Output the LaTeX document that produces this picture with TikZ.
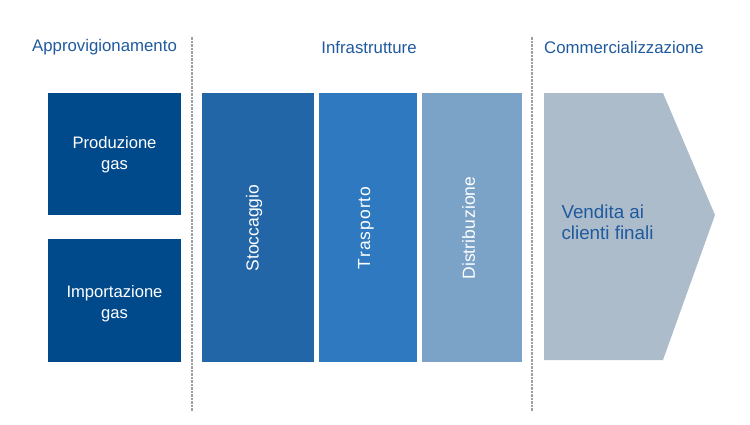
\documentclass[tikz,border=0pt]{standalone}
\usepackage{fontspec}
\setmainfont{Liberation Sans}
\definecolor{hdr}{HTML}{1F5A9E}
\definecolor{cDark}{HTML}{004A8C}
\definecolor{cStoc}{HTML}{2366A8}
\definecolor{cTras}{HTML}{2E79BF}
\definecolor{cDist}{HTML}{7BA3C8}
\definecolor{cArr}{HTML}{ADBCCB}
\definecolor{cDash}{HTML}{A0A0A0}
\begin{document}
\begin{tikzpicture}[x=1pt,y=-1pt,
  header/.style={text=hdr,font=\fontsize{16.8}{19}\selectfont,inner sep=0pt},
  sqtext/.style={text=white,align=center,font=\fontsize{16.6}{21}\selectfont},
  vbox/.style={draw=none,text=white,font=\fontsize{17.5}{20}\selectfont},
  sep/.style={draw=cDash,line width=2pt,dash pattern=on 2.5pt off 1pt}]
\useasboundingbox (0,0) rectangle (750,424);
% headers
\node[header] (h1) at (104.5,47) {Approvigionamento};
\node[header] (h2) at (369,47) {Infrastrutture};
\node[header] (h3) at (624,47) {Commercializzazione};
% separators
\coordinate (s1t) at (192,37); \coordinate (s1b) at (192,411);
\coordinate (s2t) at (532,37); \coordinate (s2b) at (532,411);
\draw[sep] (s1t) -- (s1b);
\draw[sep] (s2t) -- (s2b);
% left boxes
\fill[cDark] (48,93) rectangle (181,215);
\node[sqtext] (prod) at (114.5,154.5) {Produzione\\gas};
\fill[cDark] (48,239) rectangle (181,362);
\node[sqtext] (imp) at (114.5,303.5) {Importazione\\gas};
% infrastructure
\fill[cStoc] (202,93) rectangle (314,362);
\node[vbox,rotate=90] (stoc) at (254,228) {Stoccaggio};
\fill[cTras] (319,93) rectangle (417,362);
\node[vbox,rotate=90] (tras) at (366,228) {T\kern1.2pt r\kern1pt a\kern1pt s\kern1pt p\kern1pt o\kern1pt r\kern1pt t\kern1pt o};
\fill[cDist] (422,93) rectangle (522,362);
\node[vbox,rotate=90] (dist) at (468.5,228) {Distribu\kern1.5pt zione};
% arrow
\fill[cArr] (544,93) -- (663,93) -- (715,215) -- (663,360) -- (544,360) -- cycle;
\node[text=hdr,align=left,anchor=west,font=\fontsize{18.8}{21}\selectfont] (vend) at (558,222.5) {Vendita ai\\clienti finali};
\end{tikzpicture}
\end{document}
